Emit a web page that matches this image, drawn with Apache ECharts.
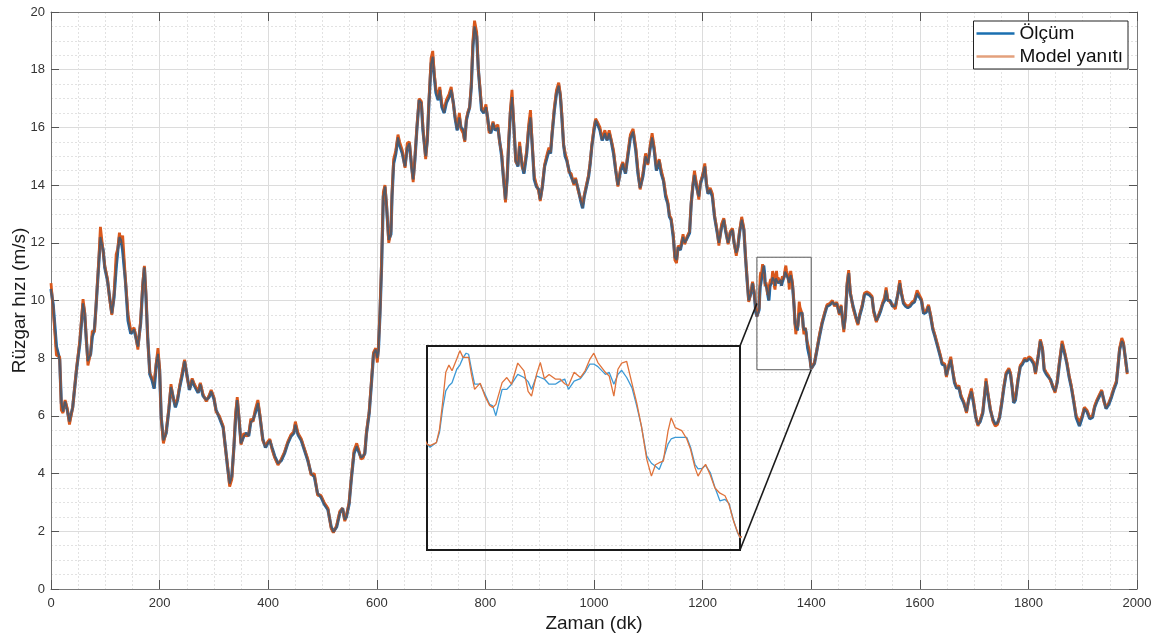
<!DOCTYPE html>
<html>
<head>
<meta charset="utf-8">
<script src="https://cdn.jsdelivr.net/npm/echarts@6/dist/echarts.min.js"></script>
<style>
html,body{margin:0;padding:0;background:#fff;}
#c{width:1157px;height:637px;}
</style>
</head>
<body>
<div id="c"></div>
<script>
// Time (minutes)
const zaman = [
0,4,10,16,19,22,26,30,34,40,
47,53,59,62,65,68,73,76,80,83,
88,91,96,99,104,108,112,116,120,123,
126,129,132,137,142,147,153,156,160,165,
169,172,175,178,182,186,190,194,197,200,
203,207,212,217,221,225,229,233,237,242,
246,251,255,260,264,271,275,280,286,291,
295,300,304,310,317,321,325,329,333,337,
340,343,346,350,355,360,364,368,372,376,
381,385,390,395,399,403,407,412,418,424,
430,436,442,447,450,455,461,467,473,479,
485,491,497,503,510,516,520,526,532,537,
541,544,549,553,558,563,567,571,575,578,
581,586,590,594,598,601,603,606,609,612,
615,618,622,626,628,631,635,639,642,647,
652,656,660,664,667,670,674,678,682,685,
690,693,696,700,703,706,709,713,716,720,
724,728,733,737,741,744,748,752,755,759,
762,765,768,771,774,777,780,784,787,790,
793,797,801,804,807,810,814,818,823,826,
830,833,837,840,843,846,849,852,856,860,
863,868,871,876,880,883,886,890,894,898,
901,905,909,914,917,920,923,927,931,935,
938,941,944,947,950,954,958,963,966,971,
975,979,982,986,990,993,996,1000,1003,1006,
1011,1015,1020,1024,1028,1032,1036,1040,1044,1049,
1053,1058,1063,1067,1072,1077,1081,1085,1090,1095,
1099,1104,1107,1111,1115,1120,1124,1128,1132,1136,
1139,1142,1146,1149,1152,1155,1159,1164,1167,1171,
1176,1179,1182,1185,1190,1193,1196,1200,1204,1207,
1210,1214,1218,1222,1227,1230,1235,1239,1243,1247,
1251,1255,1258,1262,1265,1268,1272,1276,1279,1282,
1285,1289,1292,1295,1298,1300,1301,1303,1304,1305,
1306,1307,1308,1309.5,1310.5,1311.5,1312.5,1313.3,1314.2,1315.2,
1317,1318.5,1320,1321,1322,1324,1325.5,1327,1329,1331,
1332.3,1333.4,1335,1336.2,1337.5,1339,1341,1342.5,1344,1345.2,
1347,1349,1350.5,1352,1353.3,1354.6,1357,1358.2,1359.7,1361,
1362.2,1363.8,1365.5,1367,1368.5,1370.2,1371.7,1373,1374.2,1375.5,
1377,1378,1379.3,1381.4,1383,1384.2,1385.6,1386.6,1387.8,1389,
1390.5,1392,1393.6,1395.2,1396.5,1398,1399.2,1400,1406,1410.5,
1415,1420,1425,1429,1434,1439,1443,1447,1452,1455,
1460,1463,1466,1469,1472,1477,1482,1486,1489,1494,
1498,1502,1507,1512,1515,1520,1524,1528,1532,1535,
1538,1541,1545,1550,1555,1560,1563,1566,1570,1574,
1578,1582,1586,1590,1595,1598,1603,1607,1612,1616,
1620,1624,1628,1633,1638,1641,1646,1649,1653,1657,
1660,1664,1668,1672,1676,1681,1686,1690,1695,1699,
1703,1707,1711,1716,1719,1722,1725,1730,1735,1739,
1743,1747,1751,1755,1759,1764,1767,1770,1773,1776,
1781,1785,1789,1793,1797,1801,1805,1810,1813,1818,
1822,1826,1829,1833,1837,1841,1845,1849,1853,1857,
1862,1867,1871,1875,1879,1883,1888,1894,1899,1903,
1908,1913,1918,1922,1926,1931,1935,1939,1943,1948,
1953,1957,1962,1965,1968,1972,1975,1979,1982
];
// Measured wind speed (m/s)
const olcum = [
10.4,9.85,8.4,7.95,6.45,6.15,6.5,6.2,5.8,6.3,
7.6,8.5,9.9,9.55,8.65,7.9,8.15,8.75,9.0,9.8,
11.3,12.2,11.75,11.15,10.7,10.1,9.55,10.1,11.15,11.75,
12.2,12.1,11.75,10.7,9.3,8.85,9.0,8.75,8.4,9.2,
10.5,11.15,10.1,8.75,7.45,7.25,6.95,7.8,8.15,7.6,
5.95,5.15,5.4,6.2,7.0,6.65,6.3,6.55,7.0,7.45,
7.9,7.35,6.9,7.25,7.05,6.8,7.1,6.7,6.55,6.65,
6.85,6.6,6.2,5.95,5.6,4.95,4.25,3.65,3.9,4.95,
5.95,6.55,5.95,5.05,5.3,5.4,5.3,5.8,5.85,6.1,
6.45,5.95,5.2,4.9,5.05,5.15,4.9,4.6,4.35,4.45,
4.7,5.05,5.3,5.4,5.7,5.35,5.15,4.8,4.45,4.0,
3.9,3.3,3.2,2.95,2.75,2.15,1.98,2.15,2.65,2.8,
2.4,2.5,2.95,3.8,4.7,4.95,4.75,4.55,4.6,4.7,
5.4,6.1,7.1,8.15,8.3,8.0,8.3,9.6,11.3,13.6,
13.95,13.25,12.1,12.3,13.6,14.75,15.1,15.65,15.4,15.1,
14.65,15.3,15.45,14.65,14.2,14.85,16.0,16.95,16.85,15.9,
15.0,15.55,16.85,18.2,18.45,17.75,17.2,16.95,17.3,16.7,
16.5,16.85,17.05,17.3,16.85,16.35,15.9,16.35,16.0,15.9,
15.55,16.25,16.5,16.7,17.4,18.8,19.5,19.15,18.0,17.3,
16.6,16.5,16.7,16.35,15.9,15.8,16.15,15.9,16.0,15.55,
15.0,14.3,13.5,14.2,15.45,16.5,17.05,16.15,14.85,14.65,
15.35,14.65,14.4,15.1,16.0,16.35,15.45,14.2,13.95,13.85,
13.5,13.95,14.65,15.0,15.2,15.1,15.8,16.6,17.2,17.45,
17.1,16.3,15.4,15.0,14.85,14.5,14.3,14.05,14.2,13.85,
13.5,13.2,13.6,13.95,14.3,14.75,15.35,15.9,16.25,16.15,
15.9,15.55,15.8,15.55,15.8,15.5,15.1,14.5,14.0,14.5,
14.75,14.4,15.1,15.65,15.85,15.2,14.4,13.9,14.3,15.0,
14.75,15.35,15.65,15.2,14.5,14.85,14.4,14.15,13.6,13.35,
12.9,12.8,12.2,11.5,11.4,11.85,11.75,12.2,12.0,12.15,
12.35,13.35,13.95,14.35,13.85,13.6,14.05,14.3,14.65,14.05,
13.7,13.85,13.6,12.9,12.35,12.0,12.55,12.8,12.35,12.0,
12.35,12.45,12.0,11.65,11.85,12.35,12.8,12.45,11.5,10.7,
10.0,10.25,10.6,10.25,9.6,9.45,9.39,9.48,9.68,10.13,
10.48,10.58,10.64,10.9,10.98,11.12,11.21,11.19,10.9,10.61,
10.61,10.42,10.22,10.19,10.0,10.51,10.51,10.61,10.8,10.74,
10.66,10.51,10.77,10.74,10.71,10.61,10.61,10.67,10.71,10.51,
10.67,10.72,10.84,11.0,11.0,10.95,10.8,10.84,10.61,10.8,
10.88,10.74,10.54,10.19,9.8,9.22,9.08,9.02,8.96,9.16,
9.45,9.55,9.58,9.58,9.58,9.39,9.06,8.97,8.98,9.04,
8.9,8.61,8.35,8.38,8.3,7.96,7.74,7.64,7.82,8.28,
8.74,9.2,9.55,9.8,9.85,9.95,9.85,9.9,9.55,9.8,
9.0,9.45,10.5,10.95,10.25,9.8,9.45,9.2,9.45,9.8,
10.2,10.25,10.2,10.1,9.65,9.3,9.45,9.65,9.9,10.0,
10.35,10.0,10.0,9.8,9.8,10.25,10.6,10.25,9.9,9.8,
9.75,9.8,9.9,9.95,10.25,10.3,10.0,9.55,9.6,9.8,
9.45,9.0,8.75,8.4,8.05,7.8,7.75,7.4,7.7,7.95,
7.6,7.15,6.95,7.0,6.65,6.45,6.15,6.55,6.85,6.45,
5.95,5.7,5.8,6.1,6.65,7.2,6.8,6.2,5.85,5.7,
5.75,5.95,6.45,7.0,7.45,7.6,7.45,7.0,6.45,6.55,
7.25,7.7,7.8,7.95,7.9,8.0,7.95,7.8,7.5,8.05,
8.6,8.3,7.6,7.45,7.35,7.25,7.0,6.85,7.15,7.8,
8.5,8.15,7.8,7.35,7.0,6.55,5.95,5.65,5.95,6.25,
6.15,5.9,5.95,6.3,6.5,6.7,6.85,6.55,6.25,6.4,
6.65,6.9,7.15,7.7,8.3,8.6,8.5,7.95,7.5
];
// Model response (m/s)
const model = [
10.6,9.7,8.1,8.05,6.2,6.1,6.55,6.25,5.7,6.3,
7.65,8.6,10.05,9.6,8.7,7.75,8.2,8.95,8.9,9.85,
11.4,12.55,11.7,11.2,10.75,10.05,9.5,10.2,11.6,11.8,
12.35,12.0,12.25,10.75,9.5,8.95,9.05,8.8,8.3,9.3,
10.6,11.2,10.2,8.7,7.5,7.3,7.2,7.85,8.35,7.65,
5.9,5.05,5.45,6.25,7.1,6.6,6.4,6.6,7.05,7.55,
7.95,7.3,6.95,7.3,7.1,6.85,7.15,6.75,6.5,6.7,
6.9,6.65,6.15,6.0,5.65,4.9,4.3,3.55,3.8,5.0,
6.1,6.65,6.0,5.0,5.4,5.3,5.35,5.9,5.8,6.2,
6.55,6.0,5.15,4.95,5.1,5.2,4.85,4.55,4.3,4.5,
4.75,5.1,5.35,5.45,5.8,5.4,5.2,4.85,4.5,3.95,
4.0,3.25,3.25,3.0,2.8,2.1,1.95,2.2,2.7,2.8,
2.35,2.55,3.0,3.85,4.8,5.05,4.8,4.5,4.55,4.75,
5.45,6.15,7.2,8.2,8.35,7.85,8.4,9.7,11.5,13.75,
14.0,13.3,12.0,12.4,13.7,14.9,15.2,15.75,15.5,15.2,
14.6,15.45,15.5,14.7,14.1,14.9,16.05,17.0,16.9,16.0,
14.9,15.6,16.9,18.4,18.65,17.85,17.3,17.1,17.4,16.8,
16.6,16.95,17.15,17.4,16.8,16.4,16.0,16.5,15.95,15.8,
15.5,16.3,16.55,16.7,17.5,19.0,19.7,19.3,18.0,17.4,
16.7,16.55,16.8,16.3,15.8,15.9,16.2,15.95,16.1,15.5,
15.1,14.35,13.4,14.3,15.6,16.6,17.3,16.2,14.8,14.7,
15.5,14.6,14.5,15.2,16.15,16.6,15.5,14.3,14.0,13.8,
13.45,14.0,14.7,15.1,15.3,15.15,15.85,16.7,17.3,17.55,
17.15,16.4,15.4,15.1,14.9,14.45,14.4,14.0,14.25,13.8,
13.55,13.3,13.65,14.0,14.35,14.8,15.4,16.0,16.3,16.2,
16.0,15.6,15.9,15.6,15.9,15.55,15.2,14.55,13.95,14.6,
14.8,14.45,15.2,15.75,15.95,15.3,14.5,13.85,14.4,15.1,
14.7,15.45,15.8,15.3,14.6,14.9,14.5,14.2,13.7,13.4,
12.95,12.85,12.3,11.4,11.3,11.9,11.8,12.3,11.95,12.2,
12.4,13.4,14.0,14.5,13.9,13.5,14.1,14.35,14.75,14.1,
13.75,13.9,13.7,12.95,12.4,11.9,12.65,12.85,12.4,11.95,
12.4,12.5,12.0,11.55,11.9,12.4,12.9,12.5,11.55,10.75,
9.95,10.3,10.65,10.3,9.7,9.45,9.42,9.48,9.74,10.26,
10.84,10.98,10.87,11.1,11.26,11.13,11.13,11.13,10.8,10.51,
10.63,10.38,10.2,10.16,10.22,10.64,10.74,10.61,11.02,10.87,
10.47,10.38,10.8,11.03,10.72,10.8,10.71,10.71,10.62,10.58,
10.84,10.74,10.87,11.09,11.21,11.03,10.84,10.77,10.38,10.9,
11.02,11.05,10.62,10.25,9.8,9.16,8.83,9.05,9.09,9.12,
9.7,9.96,9.77,9.71,9.55,9.35,9.0,8.83,8.96,9.06,
8.85,8.6,8.5,8.45,8.28,7.95,7.75,7.64,7.85,8.3,
8.8,9.25,9.6,9.85,9.9,10.0,9.8,9.95,9.5,9.85,
8.9,9.5,10.6,11.05,10.3,9.75,9.4,9.15,9.5,9.85,
10.25,10.3,10.25,10.15,9.6,9.25,9.5,9.7,9.95,10.1,
10.45,10.05,9.95,9.85,9.7,10.3,10.7,10.3,9.95,9.85,
9.8,9.85,9.95,10.0,10.35,10.35,10.05,9.6,9.65,9.85,
9.5,9.05,8.8,8.45,8.1,7.85,7.8,7.35,7.75,8.05,
7.65,7.2,7.0,7.05,6.7,6.5,6.1,6.6,6.95,6.5,
6.0,5.65,5.85,6.15,6.7,7.3,6.85,6.25,5.8,5.65,
5.7,6.0,6.5,7.05,7.5,7.65,7.5,7.05,6.5,6.6,
7.3,7.75,7.85,8.0,7.95,8.05,8.0,7.85,7.45,8.1,
8.65,8.35,7.65,7.5,7.4,7.2,7.05,6.8,7.2,7.85,
8.6,8.2,7.85,7.4,7.05,6.6,6.0,5.8,6.0,6.3,
6.2,5.95,6.0,6.35,6.55,6.75,6.9,6.5,6.3,6.45,
6.7,6.95,7.2,7.75,8.35,8.7,8.55,7.9,7.45
];
// Axis ticks
const xTicks = {min: 0, max: 2000, step: 200};
const yTicks = {min: 0, max: 20, step: 2};
// Inset (zoomed) window
const zoomX = [1300, 1400];
const zoomBoxY = [7.6, 11.5];
const zoomInsetY = [7.4, 11.35];

const olcumPts = zaman.map((t, i) => [t, olcum[i]]);
const modelPts = zaman.map((t, i) => [t, model[i]]);

const FONT = '"Liberation Sans", Arial, Helvetica, sans-serif';
const chart = echarts.init(document.getElementById('c'), null, {renderer: 'canvas'});

const grid0 = {left: 51, top: 12, right: 20, bottom: 48, show: false, containLabel: false, outerBoundsMode: 'none'};
const grid1 = {left: 427, top: 346, width: 313, height: 204, show: true, containLabel: false, outerBoundsMode: 'none',
  borderColor: '#1a1a1a', borderWidth: 2, backgroundColor: 'rgba(0,0,0,0)', z: 5};

const plain = v => String(v);

const mainX = {
  type: 'value', gridIndex: 0, min: xTicks.min, max: xTicks.max, interval: xTicks.step,
  name: 'Zaman (dk)', nameLocation: 'middle', nameGap: 25, nameMoveOverlap: false,
  nameTextStyle: {fontSize: 19, color: '#1a1a1a', fontFamily: FONT},
  axisLine: {show: true, onZero: false, lineStyle: {color: '#7a7a7a', width: 1}},
  axisTick: {show: true, inside: true, length: 9, lineStyle: {color: '#555'}},
  axisLabel: {fontSize: 13, color: '#333', fontFamily: FONT, margin: 8, formatter: plain},
  splitLine: {show: true, lineStyle: {color: '#dcdcdc', width: 1}},
  minorTick: {show: false, splitNumber: 4},
  minorSplitLine: {show: true, lineStyle: {color: '#e2e2e2', type: [2, 2], width: 1}}
};
const topX = {
  type: 'value', gridIndex: 0, position: 'top', min: xTicks.min, max: xTicks.max, interval: xTicks.step,
  axisLine: {show: true, onZero: false, lineStyle: {color: '#7a7a7a', width: 1}},
  axisTick: {show: true, inside: true, length: 9, lineStyle: {color: '#555'}},
  axisLabel: {show: false}, splitLine: {show: false}
};
const mainY = {
  type: 'value', gridIndex: 0, min: yTicks.min, max: yTicks.max, interval: yTicks.step,
  name: 'Rüzgar hızı (m/s)', nameLocation: 'middle', nameGap: 22, nameMoveOverlap: false,
  nameTextStyle: {fontSize: 19, color: '#1a1a1a', fontFamily: FONT},
  axisLine: {show: true, onZero: false, lineStyle: {color: '#7a7a7a', width: 1}},
  axisTick: {show: true, inside: true, length: 8, lineStyle: {color: '#555'}},
  axisLabel: {fontSize: 13, color: '#333', fontFamily: FONT, margin: 6, formatter: plain},
  splitLine: {show: true, lineStyle: {color: '#dcdcdc', width: 1}},
  minorTick: {show: false, splitNumber: 4},
  minorSplitLine: {show: true, lineStyle: {color: '#e2e2e2', type: [2, 2], width: 1}}
};
const rightY = {
  type: 'value', gridIndex: 0, position: 'right', min: yTicks.min, max: yTicks.max, interval: yTicks.step,
  axisLine: {show: true, onZero: false, lineStyle: {color: '#7a7a7a', width: 1}},
  axisTick: {show: true, inside: true, length: 8, lineStyle: {color: '#555'}},
  axisLabel: {show: false}, splitLine: {show: false}
};
const insetX = {type: 'value', gridIndex: 1, min: zoomX[0], max: zoomX[1], show: false, splitLine: {show: false}};
const insetY = {type: 'value', gridIndex: 1, min: zoomInsetY[0], max: zoomInsetY[1], show: false, splitLine: {show: false}};

chart.setOption({
  animation: false,
  backgroundColor: '#fff',
  textStyle: {fontFamily: FONT},
  grid: [grid0, grid1],
  xAxis: [mainX, topX, insetX],
  yAxis: [mainY, rightY, insetY],
  legend: {
    show: true, orient: 'vertical', right: 29, top: 21,
    backgroundColor: '#fff', borderColor: '#222', borderWidth: 1,
    padding: [3, 5, 3, 3], itemGap: 4, itemWidth: 38, itemHeight: 2.5,
    textStyle: {fontSize: 19, color: '#111', fontFamily: FONT},
    data: [
      {name: 'Ölçüm', icon: 'rect', itemStyle: {color: '#1a6fb0'}},
      {name: 'Model yanıtı', icon: 'rect', itemStyle: {color: '#e3a07c'}}
    ]
  },
  series: [
    {name: 'Ölçüm', type: 'line', xAxisIndex: 0, yAxisIndex: 0, data: olcumPts,
     symbol: 'none', lineStyle: {color: '#0f6fbf', width: 3.2}, itemStyle: {color: '#0f6fbf'}, z: 2,
     markArea: {silent: true, itemStyle: {color: 'rgba(0,0,0,0)', borderColor: '#5a5a5a', borderWidth: 1},
       data: [[{coord: [zoomX[0], zoomBoxY[0]]}, {coord: [zoomX[1], zoomBoxY[1]]}]]}},
    {name: 'Model yanıtı', type: 'line', xAxisIndex: 0, yAxisIndex: 0, data: modelPts,
     symbol: 'none', lineStyle: {color: '#d9581c', width: 2.8}, itemStyle: {color: '#d9581c'}, z: 3},
    {name: 'ortak', type: 'line', xAxisIndex: 0, yAxisIndex: 0, data: olcumPts,
     symbol: 'none', lineStyle: {color: '#525866', width: 1.9}, z: 4, silent: true},
    {name: 'Ölçüm', type: 'line', xAxisIndex: 2, yAxisIndex: 2, data: olcumPts,
     symbol: 'none', lineStyle: {color: '#3d9ad6', width: 1.3}, itemStyle: {color: '#3d9ad6'}, z: 6, clip: true},
    {name: 'Model yanıtı', type: 'line', xAxisIndex: 2, yAxisIndex: 2, data: modelPts,
     symbol: 'none', lineStyle: {color: '#e0733b', width: 1.3}, itemStyle: {color: '#e0733b'}, z: 7, clip: true}
  ]
});

// Connector lines from the inset to the zoom box, positioned through the axes' scales
function connectors() {
  const a1 = chart.convertToPixel({xAxisIndex: 2, yAxisIndex: 2}, [zoomX[1], zoomInsetY[1]]);
  const b1 = chart.convertToPixel({xAxisIndex: 0, yAxisIndex: 0}, [zoomX[0], olcum[zaman.indexOf(zoomX[0])] + 0.45]);
  const a2 = chart.convertToPixel({xAxisIndex: 2, yAxisIndex: 2}, [zoomX[1], zoomInsetY[0]]);
  const b2 = chart.convertToPixel({xAxisIndex: 0, yAxisIndex: 0}, [zoomX[1], zoomBoxY[0]]);
  chart.setOption({graphic: [
    {type: 'line', z: 100, shape: {x1: a1[0], y1: a1[1], x2: b1[0], y2: b1[1]}, style: {stroke: '#1a1a1a', lineWidth: 1.6}},
    {type: 'line', z: 100, shape: {x1: a2[0], y1: a2[1], x2: b2[0], y2: b2[1]}, style: {stroke: '#1a1a1a', lineWidth: 1.6}}
  ]});
}
connectors();
</script>
</body>
</html>
